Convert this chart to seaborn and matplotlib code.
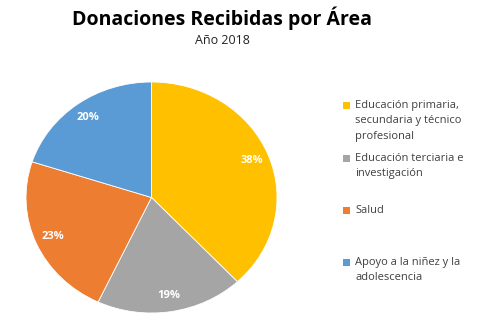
import matplotlib
matplotlib.use("Agg")
import matplotlib.pyplot as plt
import seaborn as sns
from matplotlib.patches import Rectangle

sns.set_theme(style="white")
plt.rcParams['font.family'] = ['Open Sans', 'DejaVu Sans']

areas = [
    "Educación primaria,\nsecundaria y técnico\nprofesional",
    "Educación terciaria e\ninvestigación",
    "Salud",
    "Apoyo a la niñez y la\nadolescencia",
]
porcentajes = [38, 19, 23, 20]
colores = sns.color_palette(["#FFC000", "#A5A5A5", "#ED7D31", "#5B9BD5"])

W, H = 484, 336
fig = plt.figure(figsize=(W / 100, H / 100), dpi=100)
fig.patch.set_facecolor("white")

# pie area (slightly wider than tall)
left, right, top, bottom = 26, 277, 82, 313
ax = fig.add_axes([left / W, 1 - bottom / H, (right - left) / W, (bottom - top) / H])
ax.pie(
    porcentajes,
    colors=colores,
    startangle=90,
    counterclock=False,
    autopct="%1.0f%%",
    pctdistance=0.86,
    wedgeprops=dict(linewidth=0.6, edgecolor="white"),
    textprops=dict(color="white", fontsize=8, fontweight="bold"),
)
ax.set_aspect("auto")
ax.set_xlim(-1, 1)
ax.set_ylim(-1, 1)
ax.axis("off")

fig.text(222 / W, 1 - 18 / H, "Donaciones Recibidas por Área", ha="center", va="center",
         fontsize=14, fontweight="bold", color="black")
fig.text(222 / W, 1 - 41 / H, "Año 2018", ha="center", va="center",
         fontsize=9, color="#222222")

# legend
ley_y = [105, 158, 210, 262]
for nombre, color, y in zip(areas, colores, ley_y):
    fig.patches.append(Rectangle((343 / W, 1 - (y + 3.5) / H), 7 / W, 7 / H,
                                 transform=fig.transFigure, facecolor=color, edgecolor="none"))
    fig.text(355 / W, 1 - (y - 5) / H, nombre, ha="left", va="top",
             fontsize=8, color="#404040", linespacing=1.55)

fig.savefig("out.png", dpi=100, facecolor="white")
